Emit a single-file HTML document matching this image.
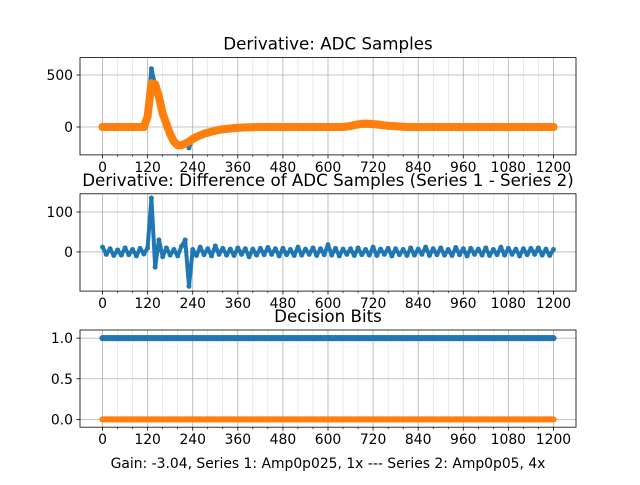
<!DOCTYPE html>
<html><head><meta charset="utf-8">
<style>
html,body{margin:0;padding:0;background:#fff;}
svg text{font-family:"DejaVu Sans","Liberation Sans",sans-serif;fill:#000;}
</style></head>
<body>
<svg id="fig" width="640" height="480" viewBox="0 0 640 480" xmlns="http://www.w3.org/2000/svg"></svg>
<script>
const xTicks=[0,120,240,360,480,600,720,840,960,1080,1200];
const topS1=[0,0,0,0,0,0,0,0,0,0,0,0,
150,560,400,280,120,20,-80,-150,-180,-175,-150,-200,-110,
-95,-80,-65,-55,-45,-35,-28,-22,-18,-14,-10,-8,-6,-4,-3,-2,
0,0,0,0,0,0,0,0,0,0,0,0,0,0,0,0,0,0,0,0,0,0,0,0,
5,10,18,25,30,32,30,28,25,20,15,12,10,7,5,3,
0,0,0,0,0,0,0,0,0,0,0,0,0,0,0,0,0,0,0,0,0,0,0,0,0,0,0,0,0,0,0,0,0,0,0,0,0,0,0,0];
const topS2=[0,0,0,0,0,0,0,0,0,0,0,0,
100,420,410,290,130,30,-70,-140,-175,-175,-160,-140,-115,
-95,-80,-65,-55,-45,-35,-28,-22,-18,-14,-10,-8,-6,-4,-3,-2,
0,0,0,0,0,0,0,0,0,0,0,0,0,0,0,0,0,0,0,0,0,0,0,0,
5,10,18,25,30,32,30,28,25,20,15,12,10,7,5,3,
0,0,0,0,0,0,0,0,0,0,0,0,0,0,0,0,0,0,0,0,0,0,0,0,0,0,0,0,0,0,0,0,0,0,0,0,0,0,0,0];
const midS=[12,-6,8,-9,5,-8,10,-7,6,-10,9,-5,
10,135,-38,30,-12,10,-8,6,-10,14,30,-86,6,
-9,12,-7,8,-10,15,-6,9,-8,7,-9,10,-6,8,-12,7,
-8,9,-7,11,-6,8,-10,9,-7,6,-9,12,-8,7,-6,10,-9,8,-7,18,-8,9,-10,7,
-6,8,-9,10,-7,6,-8,12,-9,7,-6,9,-10,8,-7,6,
-9,10,-8,7,-6,12,-9,8,-7,10,-8,6,-9,11,-7,8,-10,9,-6,7,-8,10,-9,6,-7,12,-8,9,-6,7,-10,8,-7,9,-6,10,-8,7,-9,6];
const bitS1=new Array(121).fill(1);
const bitS2=new Array(121).fill(0);
const xStep=10;

const svg=document.getElementById('fig');
const NS='http://www.w3.org/2000/svg';
function mk(tag,attrs,parent){const e=document.createElementNS(NS,tag);for(const k in attrs)e.setAttribute(k,attrs[k]);(parent||svg).appendChild(e);return e;}
const L=80,R=576,X0=-60,X1=1260;
function xs(v){return L+(v-X0)/(X1-X0)*(R-L);}

function panel(name,top,bot,y0,y1,yTicks,yLabels,series,title){
  const g=mk('g',{});
  
  
  const ys=v=>bot-(v-y0)/(y1-y0)*(bot-top);
  for(let v=0;v<=1200;v+=40){if(v%120===0)continue;
    const l=mk('line',{x1:xs(v),x2:xs(v),y1:top,y2:bot,stroke:'#b0b0b0','stroke-width':0.5,'stroke-opacity':0.5},g);
    
    const t=mk('line',{x1:xs(v),x2:xs(v),y1:bot,y2:bot+2,stroke:'#000','stroke-width':0.6},g);
    }
  xTicks.forEach(v=>{
    const l=mk('line',{x1:xs(v),x2:xs(v),y1:top,y2:bot,stroke:'#b0b0b0','stroke-width':0.8},g);
    
    const t=mk('line',{x1:xs(v),x2:xs(v),y1:bot,y2:bot+3.5,stroke:'#000','stroke-width':0.8},g);
    
    const tx=mk('text',{x:xs(v),y:bot+17,'font-size':13.9,'text-anchor':'middle'},g);
    tx.textContent=v;
    });
  yTicks.forEach((v,i)=>{
    const l=mk('line',{x1:L,x2:R,y1:ys(v),y2:ys(v),stroke:'#b0b0b0','stroke-width':0.8},g);
    
    const t=mk('line',{x1:L-3.5,x2:L,y1:ys(v),y2:ys(v),stroke:'#000','stroke-width':0.8},g);
    
    const tx=mk('text',{x:L-7,y:ys(v)+5,'font-size':13.9,'text-anchor':'end'},g);
    tx.textContent=yLabels[i];
    });
  series.forEach(s=>{
    const pts=s.data.map((v,i)=>xs(i*xStep).toFixed(1)+','+ys(v).toFixed(1)).join(' ');
    const pl=mk('polyline',{points:pts,fill:'none',stroke:s.color,'stroke-width':s.w,'stroke-linejoin':'round','stroke-linecap':'round'},g);
    
    s.data.forEach((v,i)=>{
      const c=mk('circle',{cx:xs(i*xStep),cy:ys(v),r:s.r,fill:s.color},g);
      });
  });
  const fr=mk('rect',{x:L,y:top,width:R-L,height:bot-top,fill:'none',stroke:'#000','stroke-width':0.8},g);
  
  const tt=mk('text',{x:(L+R)/2,y:top-8,'font-size':16.7,'text-anchor':'middle'},svg);
  tt.textContent=title;
  
}
panel('adc-samples-panel',57.6,154.9,-268,667,[0,500],['0','500'],
  [{data:topS1,color:'#1f77b4',r:2.5,w:4,name:'series-1'},{data:topS2,color:'#ff7f0e',r:4,w:8,name:'series-2'}],
  'Derivative: ADC Samples');
panel('difference-panel',193.8,291.1,-98,145.5,[0,100],['0','100'],
  [{data:midS,color:'#1f77b4',r:2.5,w:4,name:'difference'}],
  'Derivative: Difference of ADC Samples (Series 1 - Series 2)');
panel('decision-bits-panel',330,427.2,-0.096,1.1,[0,0.5,1],['0.0','0.5','1.0'],
  [{data:bitS1,color:'#1f77b4',r:3,w:6,name:'bits-series-1'},{data:bitS2,color:'#ff7f0e',r:3,w:6,name:'bits-series-2'}],
  'Decision Bits');
const xl=mk('text',{x:328,y:468,'font-size':13.9,'text-anchor':'middle'});
xl.textContent='Gain: -3.04, Series 1: Amp0p025, 1x --- Series 2: Amp0p05, 4x';


</script>
</body></html>
